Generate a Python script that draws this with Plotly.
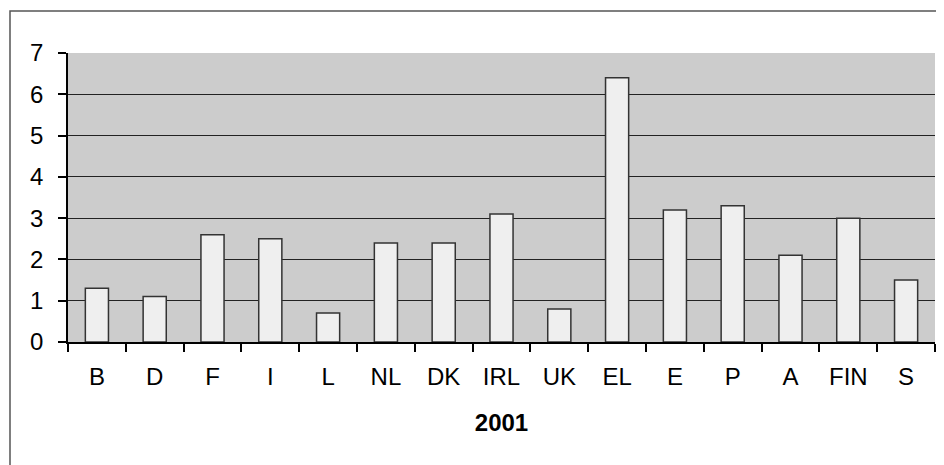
import plotly.graph_objects as go

countries = ["B", "D", "F", "I", "L", "NL", "DK", "IRL", "UK", "EL", "E", "P", "A", "FIN", "S"]
values_2001 = [1.3, 1.1, 2.6, 2.5, 0.7, 2.4, 2.4, 3.1, 0.8, 6.4, 3.2, 3.3, 2.1, 3.0, 1.5]
y_ticks = [0, 1, 2, 3, 4, 5, 6, 7]
x_title = "2001"

FONT = "Liberation Sans, Arial, sans-serif"
FS = 24

fig = go.Figure(
    go.Bar(
        x=countries,
        y=values_2001,
        marker=dict(color="#efefef", line=dict(color="#333333", width=1.5)),
        hoverinfo="x+y",
    )
)

fig.update_layout(
    width=936,
    height=457,
    margin=dict(l=60, r=9, t=45, b=123),
    paper_bgcolor="white",
    plot_bgcolor="#cccccc",
    bargap=0.6,
    showlegend=False,
    font=dict(family=FONT, size=FS, color="black"),
    xaxis=dict(
        type="category",
        showline=True,
        linecolor="black",
        linewidth=1.5,
        ticks="outside",
        tickson="boundaries",
        ticklen=8,
        tickcolor="black",
        tickwidth=1.5,
        showgrid=False,
        automargin=False,
        tickfont=dict(family=FONT, size=FS, color="black"),
        ticklabelstandoff=12,
        title=dict(text="<b>" + x_title + "</b>", font=dict(family=FONT, size=FS, color="black"), standoff=26),
    ),
    yaxis=dict(
        range=[0, 7],
        tickvals=y_ticks,
        showline=True,
        linecolor="black",
        linewidth=1.5,
        ticks="outside",
        ticklen=8,
        tickcolor="black",
        tickwidth=1.5,
        showgrid=True,
        gridcolor="#222222",
        gridwidth=1.2,
        zeroline=False,
        automargin=False,
        tickfont=dict(family=FONT, size=FS, color="black"),
        ticklabelstandoff=10,
    ),
    shapes=[
        dict(
            type="rect",
            xref="paper",
            yref="paper",
            x0=-0.0669,
            x1=1.2,
            y0=-0.6,
            y1=1.1453,
            line=dict(color="#555555", width=1.5),
            fillcolor="rgba(0,0,0,0)",
            layer="below",
        )
    ],
)

fig.write_html("out.html")
